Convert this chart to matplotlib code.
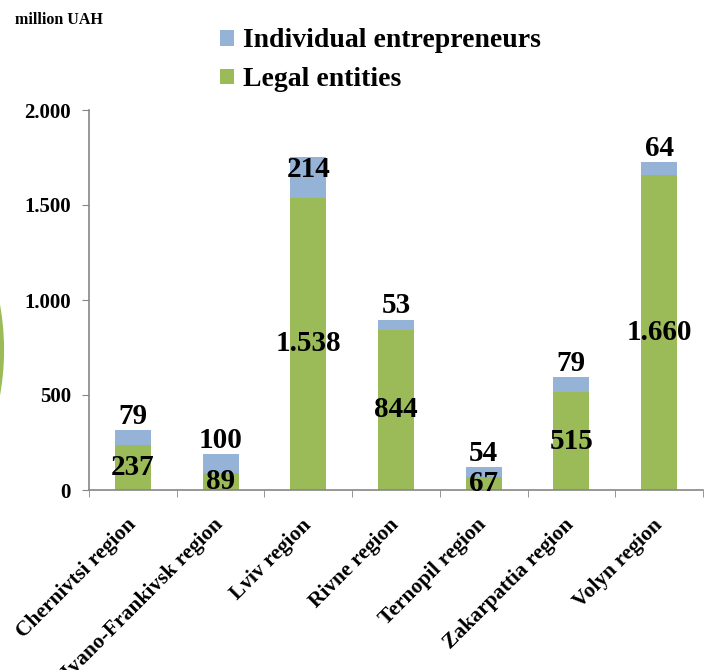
import matplotlib
matplotlib.use('Agg')
import matplotlib.pyplot as plt
from matplotlib.patches import Ellipse
from matplotlib.ticker import FuncFormatter, FixedLocator

plt.rcParams['font.family'] = ['Liberation Serif', 'DejaVu Serif']
plt.rcParams['font.weight'] = 'bold'

# data (million UAH)
regions = ['Chernivtsi region', 'Ivano-Frankivsk region', 'Lviv region', 'Rivne region',
           'Ternopil region', 'Zakarpattia region', 'Volyn region']
legal = [237, 89, 1538, 844, 67, 515, 1660]
individual = [79, 100, 214, 53, 54, 79, 64]

green = '#9BBB59'
blue = '#95B3D7'
axis_grey = '#868686'


def dotted(v, pos=None):
    # thousands separator as a dot
    return f'{int(round(v)):,}'.replace(',', '.')


W, H = 704, 670
fig = plt.figure(figsize=(W / 100, H / 100), dpi=100)
ax = fig.add_axes([89 / W, 1 - 490 / H, (703 - 89) / W, (490 - 110) / H])

x = list(range(len(regions)))
b1 = ax.bar(x, legal, width=0.41, color=green, label='Legal entities')
b2 = ax.bar(x, individual, width=0.41, bottom=legal, color=blue,
            label='Individual entrepreneurs')

ax.set_xlim(-0.5, len(regions) - 0.5)
ax.set_ylim(0, 2000)
ax.set_yticks([0, 500, 1000, 1500, 2000])
ax.yaxis.set_major_formatter(FuncFormatter(dotted))
ax.tick_params(axis='y', labelsize=15, length=5, color=axis_grey, pad=8)

ax.set_xticks(x)
ax.set_xticklabels(regions, rotation=45, ha='right', va='center',
                   rotation_mode='anchor', fontsize=15.5)
ax.tick_params(axis='x', which='major', length=0, pad=23)
ax.xaxis.set_minor_locator(FixedLocator([i - 0.5 for i in range(len(regions) + 1)]))
ax.tick_params(axis='x', which='minor', length=5, color=axis_grey)

for side in ['top', 'right']:
    ax.spines[side].set_visible(False)
for side in ['left', 'bottom']:
    ax.spines[side].set_color(axis_grey)
    ax.spines[side].set_linewidth(1.2)

# value labels
for i in x:
    ax.text(i, legal[i] / 2, dotted(legal[i]), ha='center', va='center', fontsize=21)
    top = legal[i] + individual[i]
    if individual[i] > 150:
        ax.annotate(dotted(individual[i]), (i, top), xytext=(0, -9),
                    textcoords='offset points', ha='center', va='center', fontsize=21)
    else:
        ax.annotate(dotted(individual[i]), (i, top), xytext=(0, 10),
                    textcoords='offset points', ha='center', va='center', fontsize=21)

# legend and unit label
fig.legend(handles=[b2, b1], labels=['Individual entrepreneurs', 'Legal entities'],
           loc='upper left', bbox_to_anchor=(201 / W, 1 - 9 / H), frameon=False,
           fontsize=20, handlelength=0.5, handleheight=0.5, handletextpad=0.3,
           labelspacing=0.5, borderpad=0.2)
fig.text(15 / W, 1 - 20 / H, 'million UAH', fontsize=11.5, va='center', ha='left')

# green arc at the left edge
fig.patches.append(Ellipse((-251 / W, 1 - 350 / H), 2 * 253 / W, 2 * 253 / H,
                           transform=fig.transFigure, facecolor='none',
                           edgecolor=green, linewidth=3))

fig.savefig('out.png', dpi=100)
